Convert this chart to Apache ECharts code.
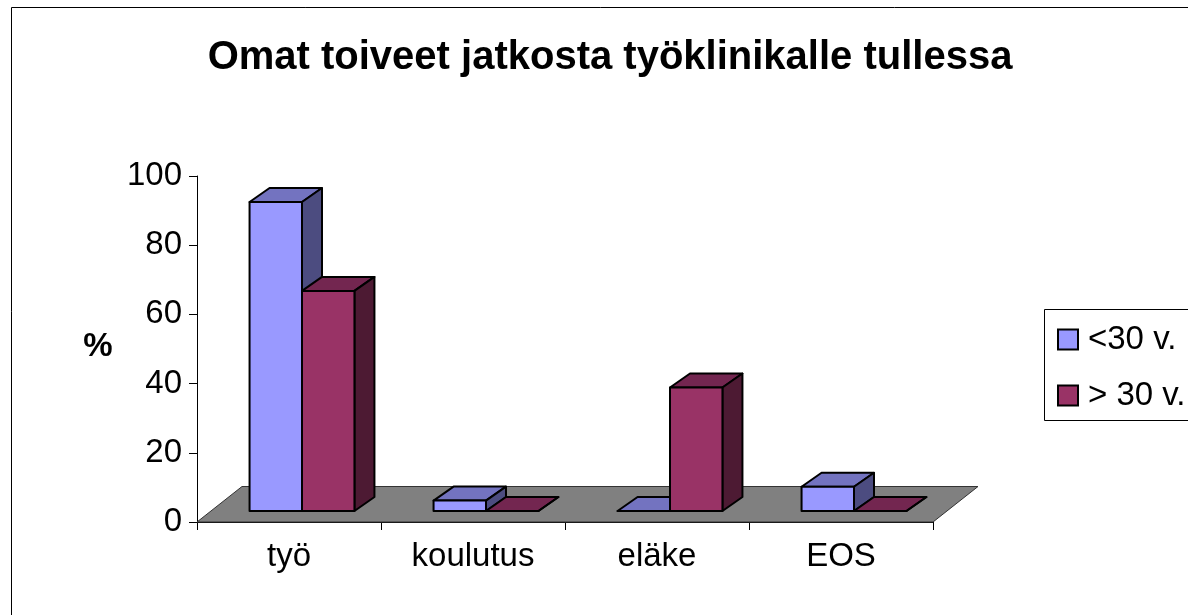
<!DOCTYPE html>
<html>
<head>
<meta charset="utf-8">
<script src="https://cdn.jsdelivr.net/npm/echarts@6/dist/echarts.min.js"></script>
<style>
  html, body { margin: 0; padding: 0; background: #fff; }
  #chart { width: 1188px; height: 615px; }
</style>
</head>
<body>
<div id="chart"></div>
<script>
// data
const categories = ['työ', 'koulutus', 'eläke', 'EOS']
const under30 = [89.3, 3, 0, 7]
const over30 = [63.6, 0, 35.7, 0]
const seriesNames = ['<30 v.', '> 30 v.']
const yTicks = [0, 20, 40, 60, 80, 100]

const FONT = 'Liberation Sans, Arial, sans-serif'

// 3D look: front faces sit a bit back on the floor, bars have a small depth
const FACE_DX = 13, FACE_DY = -11
const BAR_DX = 20, BAR_DY = -14
const FLOOR_DX = 45, FLOOR_DY = -35.5
const BAR_RATIO = 0.285

const palette = [
  { front: '#9999FF', top: '#7373C0', side: '#4C4C80' },
  { front: '#993366', top: '#732650', side: '#4D1A33' }
]

function poly(points, fill) {
  return {
    type: 'polygon',
    shape: { points },
    style: { fill, stroke: '#000', lineWidth: 2, lineJoin: 'round' }
  }
}

// one box per data item, side 0 = left bar, side 1 = right bar
function makeBarRenderer(side) {
  const c = palette[side]
  return function (params, api) {
    const base = api.coord([api.value(0), 0])
    const band = api.size([1, 0])[0]
    const w = band * BAR_RATIO
    const h = api.size([0, api.value(1)])[1]
    const x0 = base[0] + FACE_DX + (side === 0 ? -w : 0)
    const x1 = x0 + w
    const yb = base[1] + FACE_DY
    const yt = yb - h
    return {
      type: 'group',
      children: [
        poly([[x0, yt], [x1, yt], [x1 + BAR_DX, yt + BAR_DY], [x0 + BAR_DX, yt + BAR_DY]], c.top),
        poly([[x1, yb], [x1, yt], [x1 + BAR_DX, yt + BAR_DY], [x1 + BAR_DX, yb + BAR_DY]], c.side),
        poly([[x0, yb], [x1, yb], [x1, yt], [x0, yt]], c.front)
      ]
    }
  }
}

function renderFloor(params, api) {
  const cs = params.coordSys
  const y0 = api.coord([0, 0])[1]
  const xl = cs.x, xr = cs.x + cs.width
  return {
    type: 'polygon',
    shape: {
      points: [[xl, y0], [xr, y0], [xr + FLOOR_DX, y0 + FLOOR_DY], [xl + FLOOR_DX, y0 + FLOOR_DY]]
    },
    style: { fill: '#808080', stroke: '#333', lineWidth: 1 }
  }
}

const chart = echarts.init(document.getElementById('chart'))

const option = {
  animation: false,
  backgroundColor: '#fff',
  textStyle: { fontFamily: FONT },
  grid: { left: 197, top: 176, width: 736, height: 346 },
  graphic: [
    {
      type: 'rect', z: 0,
      shape: { x: 11.5, y: 7.5, width: 1400, height: 800 },
      style: { fill: 'none', stroke: '#000', lineWidth: 1 }
    },
    {
      type: 'text', z: 10,
      x: 610, y: 58,
      style: {
        text: 'Omat toiveet jatkosta työklinikalle tullessa',
        font: 'bold 40px ' + FONT,
        fill: '#000', textAlign: 'center', textVerticalAlign: 'middle'
      }
    },
    {
      type: 'text', z: 10,
      x: 98, y: 347,
      style: {
        text: '%', font: 'bold 33px ' + FONT,
        fill: '#000', textAlign: 'center', textVerticalAlign: 'middle'
      }
    },
    {
      type: 'rect', z: 0,
      shape: { x: 1044.5, y: 309.5, width: 300, height: 111 },
      style: { fill: '#fff', stroke: '#000', lineWidth: 1 }
    }
  ],
  legend: {
    orient: 'vertical',
    left: 1052,
    top: 318,
    itemWidth: 20,
    itemHeight: 20,
    itemGap: 23,
    icon: 'rect',
    data: seriesNames.map((name, i) => ({
      name,
      itemStyle: { color: palette[i].front, borderColor: '#000', borderWidth: 2 }
    })),
    textStyle: { fontSize: 33, color: '#000', fontFamily: FONT, padding: [0, 0, 0, 5] }
  },
  xAxis: {
    type: 'category',
    data: categories,
    boundaryGap: true,
    axisLine: { lineStyle: { color: '#000', width: 1 } },
    axisTick: { show: true, length: 8, lineStyle: { color: '#000' } },
    axisLabel: { fontSize: 33, color: '#000', margin: 18, fontFamily: FONT },
    splitLine: { show: false }
  },
  yAxis: {
    type: 'value',
    min: yTicks[0],
    max: yTicks[yTicks.length - 1],
    interval: yTicks[1] - yTicks[0],
    axisLine: { show: true, lineStyle: { color: '#000', width: 1 } },
    axisTick: { show: true, length: 8, lineStyle: { color: '#000' } },
    axisLabel: { fontSize: 33, color: '#000', margin: 15, fontFamily: FONT },
    splitLine: { show: false }
  },
  series: [
    {
      name: 'floor',
      type: 'custom',
      z: 1,
      silent: true,
      renderItem: renderFloor,
      data: [[0, 0]]
    },
    {
      name: seriesNames[0],
      type: 'custom',
      z: 2,
      itemStyle: { color: palette[0].front },
      renderItem: makeBarRenderer(0),
      data: under30.map((v, i) => [i, v])
    },
    {
      name: seriesNames[1],
      type: 'custom',
      z: 3,
      itemStyle: { color: palette[1].front },
      renderItem: makeBarRenderer(1),
      data: over30.map((v, i) => [i, v])
    }
  ]
}

chart.setOption(option)
</script>
</body>
</html>
